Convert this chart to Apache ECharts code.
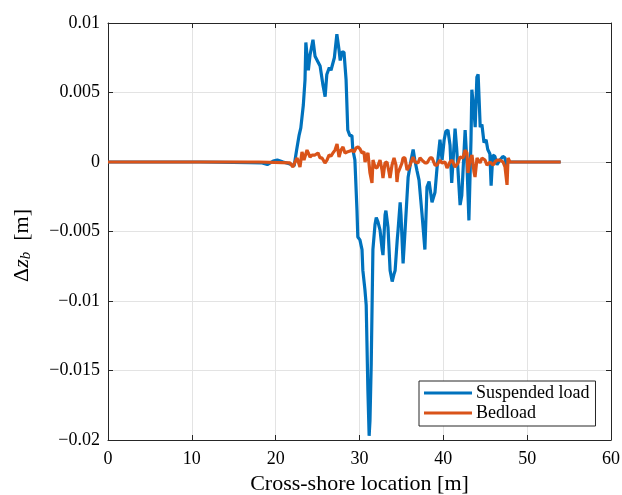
<!DOCTYPE html>
<html>
<head>
<meta charset="utf-8">
<script src="https://cdn.jsdelivr.net/npm/echarts@6/dist/echarts.min.js"></script>
<style>html,body{margin:0;padding:0;background:#fff}#c{width:622px;height:495px}</style>
</head>
<body>
<div id="c"></div>
<script>
// Cross-shore location [m] and bed change [m]
const suspX = [0, 5, 11, 16.9, 18.4, 19.0, 19.7, 20.2, 20.9, 21.7, 22.2, 22.5, 22.8, 23.0, 23.3, 23.5, 23.6, 23.9, 24.1, 24.45, 24.7, 25.05, 25.3, 25.65, 25.9, 26.1, 26.4, 26.6, 27.0, 27.3, 27.55, 27.7, 27.9, 28.15, 28.4, 28.6, 28.85, 29.1, 29.2, 29.45, 29.7, 29.8, 30.05, 30.3, 30.4, 30.65, 30.8, 31.0, 31.15, 31.25, 31.4, 31.6, 31.85, 32.0, 32.2, 32.45, 32.7, 32.8, 33.05, 33.15, 33.4, 33.65, 33.9, 34.1, 34.25, 34.5, 34.6, 34.85, 34.95, 35.2, 35.4, 35.8, 36.15, 36.4, 36.6, 36.85, 37.1, 37.45, 37.8, 38.05, 38.3, 38.65, 39.0, 39.25, 39.6, 39.85, 40.1, 40.3, 40.55, 40.8, 41.0, 41.4, 41.6, 42.0, 42.2, 42.6, 42.8, 43.05, 43.3, 43.4, 43.65, 43.8, 44.0, 44.15, 44.4, 44.6, 44.85, 45.1, 45.3, 45.55, 45.7, 45.9, 46.15, 46.4, 46.75, 47.1, 47.35, 47.5, 47.7, 54];
const suspY = [0, 0, 0, -0.00004, -0.00007, -0.00018, 0.00007, 0.00014, 0, -0.00014, -0.00029, 0.00086, 0.00194, 0.00245, 0.0041, 0.0059, 0.0086, 0.0066, 0.0077, 0.0088, 0.0076, 0.0072, 0.0069, 0.0055, 0.0047, 0.0063, 0.0068, 0.0066, 0.0075, 0.0092, 0.0081, 0.0073, 0.0079, 0.0079, 0.0059, 0.0023, 0.0019, 0.0019, 0.0009, 0.00014, -0.0035, -0.0054, -0.0056, -0.0063, -0.0078, -0.0092, -0.0103, -0.0164, -0.0197, -0.0186, -0.0145, -0.0063, -0.0045, -0.004, -0.0043, -0.0049, -0.0063, -0.0067, -0.0038, -0.0035, -0.0047, -0.0078, -0.0086, -0.0081, -0.0078, -0.0056, -0.0049, -0.0029, -0.0038, -0.0073, -0.0053, -0.0011, 0.00014, 0.0009, 0.00014, -0.0006, -0.0013, -0.0037, -0.0063, -0.0018, -0.0014, -0.0029, -0.0022, -0.0004, 0.0016, 0.00014, 0.0016, 0.0022, 0.0023, 0.0012, -0.0015, 0.0024, 0.0009, -0.0031, -0.0024, 0.0023, 0.00014, -0.0042, 0.0016, 0.0052, 0.0037, 0.0025, 0.0061, 0.0063, 0.0025, 0.0027, 0.0014, 0.0016, 0.0009, 0.0006, -0.0017, 0.0005, 0.0004, -0.0002, 0.00014, 0.0004, 0.0003, -0.0004, 0, 0];

const bedX = [0, 6, 11.8, 12.0, 12.2, 18, 21.71, 22.07, 22.31, 22.55, 22.90, 23.14, 23.38, 23.74, 24.10, 24.34, 24.69, 25.05, 25.29, 25.53, 25.88, 26.12, 26.36, 26.60, 26.84, 27.08, 27.32, 27.56, 27.79, 28.03, 28.27, 28.51, 28.87, 29.11, 29.35, 29.58, 29.82, 30.06, 30.30, 30.54, 30.66, 30.90, 31.01, 31.25, 31.49, 31.61, 31.85, 32.09, 32.45, 32.69, 32.80, 33.04, 33.28, 33.52, 33.64, 33.88, 34.12, 34.35, 34.47, 34.59, 34.83, 35.07, 35.19, 35.43, 35.67, 36.03, 36.39, 36.62, 36.98, 37.22, 37.46, 37.81, 38.05, 38.41, 38.65, 39.01, 39.25, 39.60, 39.84, 40.20, 40.44, 40.80, 41.04, 41.39, 41.75, 41.99, 42.35, 42.59, 42.82, 42.94, 43.18, 43.42, 43.66, 43.78, 44.02, 44.38, 44.61, 44.97, 45.21, 45.57, 45.93, 46.16, 46.40, 46.76, 47.12, 47.36, 47.60, 47.72, 47.95, 54];
const bedY = [0, 0, 0, -0.0001, 0, 0, -0.00007, -0.00036, 0, 0.00029, -0.00036, 0.00072, 0.00014, 0.00086, 0.00036, 0.0005, 0.0005, 0.00065, 0.00029, 0.00029, -0.00007, 0.00014, 0.0005, 0.00043, 0.00065, 0.00086, 0.00129, 0.00036, 0.00086, 0.00108, 0.00065, 0.00072, 0.00079, 0.00086, 0.00072, 0.00101, 0.00108, 0.00094, 0.00065, 0.00072, 0, 0.0005, 0.00065, -0.00079, -0.00151, 0.00014, -0.00036, -0.00043, 0.00014, -0.00058, -0.00115, -0.00007, 0, -0.00072, -0.00115, -0.00022, 0.00029, -0.00022, -0.00144, -0.00079, -0.00043, -0.00007, 0.00029, 0.00029, -0.00058, -0.00022, 0.00036, 0, -0.00007, 0.00029, 0.00014, -0.00007, -0.00007, 0.00029, 0.00029, -0.00022, -0.00022, 0.00014, -0.00007, 0, -0.00043, 0, 0.00014, -0.00036, -0.00007, 0.00036, 0.00029, 0.00086, 0.00065, -0.00079, 0.00014, 0.0005, -0.00072, -0.00108, 0.00029, -0.00007, 0.00029, 0.00014, -0.00022, 0, -0.00022, 0, 0.00014, 0.00014, 0, -0.00036, -0.00165, 0.00029, 0, 0];

const seriesNames = ['Suspended load', 'Bedload'];
const xTicks = {min: 0, max: 60, interval: 10};
const yTicks = {min: -0.02, max: 0.01, interval: 0.005};

const font = 'Liberation Serif';
const axisCol = '#262626';
function fmtY(v) {
  const r = Math.round(v * 1000) / 1000;
  return String(Math.abs(r) < 1e-12 ? 0 : r).replace('-', '\u2212');
}
const chart = echarts.init(document.getElementById('c'), null, {renderer: 'canvas'});
const common = {
  axisLine: {show: true, onZero: false, lineStyle: {color: axisCol, width: 1}},
  axisTick: {show: true, inside: true, length: 5, lineStyle: {color: axisCol}},
};
chart.setOption({
  animation: false,
  backgroundColor: '#fff',
  grid: {left: 108, right: 11, top: 23, bottom: 55, containLabel: false, outerBoundsMode: 'none'},
  legend: {
    data: seriesNames,
    orient: 'vertical',
    left: 419, top: 381,
    itemWidth: 48, itemHeight: 3, itemGap: 2,
    icon: 'rect',
    backgroundColor: '#fff',
    borderColor: axisCol, borderWidth: 1,
    borderRadius: 0,
    padding: [3, 6, 4, 5],
    textStyle: {fontFamily: font, fontSize: 18, lineHeight: 18, color: '#000', padding: [0, 0, 0, -1]}
  },
  xAxis: [{
    type: 'value', ...xTicks,
    name: 'Cross-shore location [m]', nameLocation: 'middle', nameGap: 32,
    nameTextStyle: {fontFamily: font, fontSize: 22, color: '#000'},
    ...common,
    axisLabel: {fontFamily: font, fontSize: 18, color: '#000', margin: 10},
    splitLine: {show: true, lineStyle: {color: '#e3e3e3', width: 1}}
  }, {
    type: 'value', position: 'top', ...xTicks, ...common,
    axisLabel: {show: false}, splitLine: {show: false}
  }],
  yAxis: [{
    type: 'value', ...yTicks,
    name: '\u0394{it|z}{sub|b}  [m]', nameLocation: 'middle', nameGap: 74,
    nameTextStyle: {fontFamily: font, fontSize: 22, color: '#000', padding: [0, 28, 0, 0],
      rich: {
        it: {fontFamily: font, fontSize: 22, fontStyle: 'italic', color: '#000'},
        sub: {fontFamily: font, fontSize: 15, fontStyle: 'italic', color: '#000', padding: [9, 0, 0, 0]}
      }},
    ...common,
    axisLabel: {fontFamily: font, fontSize: 18, color: '#000', margin: 8, formatter: fmtY},
    splitLine: {show: true, lineStyle: {color: '#e3e3e3', width: 1}}
  }, {
    type: 'value', position: 'right', ...yTicks, ...common,
    axisLabel: {show: false}, splitLine: {show: false}
  }],
  series: [{
    name: seriesNames[0], type: 'line', showSymbol: false, symbol: 'none',
    data: suspX.map((x, i) => [x, suspY[i]]),
    lineStyle: {color: '#0072BD', width: 3.2}, itemStyle: {color: '#0072BD'}
  }, {
    name: seriesNames[1], type: 'line', showSymbol: false, symbol: 'none',
    data: bedX.map((x, i) => [x, bedY[i]]),
    lineStyle: {color: '#D95319', width: 3.2}, itemStyle: {color: '#D95319'}
  }]
});
</script>
</body>
</html>
